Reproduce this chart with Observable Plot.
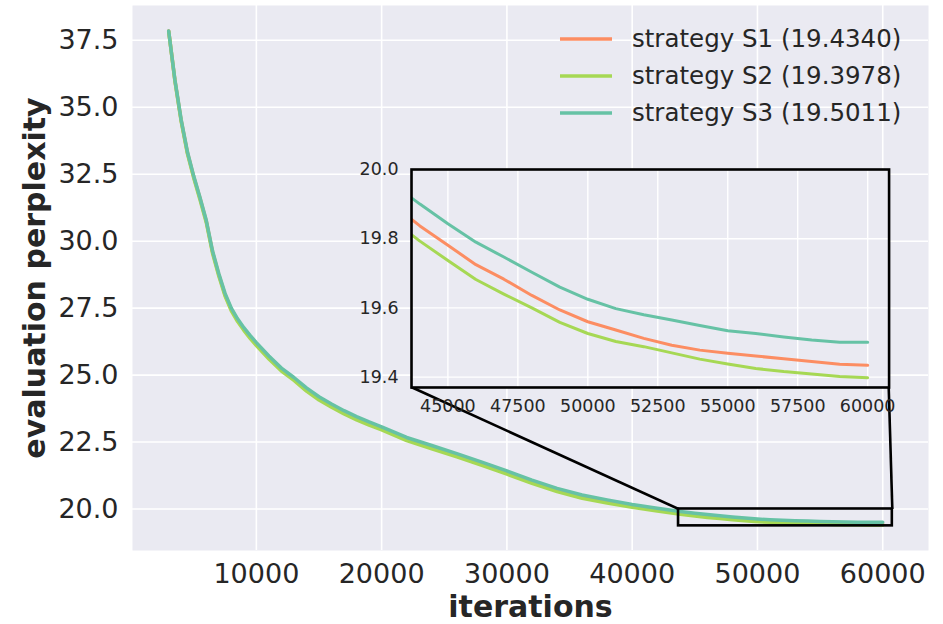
<!DOCTYPE html>
<html>
<head>
<meta charset="utf-8">
<script src="https://cdn.jsdelivr.net/npm/d3@7"></script>
<script src="https://cdn.jsdelivr.net/npm/@observablehq/plot@0.6"></script>
<style>
  body { margin: 0; background: #ffffff; }
  #wrap { position: relative; width: 943px; height: 624px; font-family: "DejaVu Sans", sans-serif; color: #262626; }
  #wrap svg { font-family: "DejaVu Sans", sans-serif; }
  #inset { position: absolute; }
  #legend { position: absolute; left: 560px; top: 20px; }
  .lrow { display: flex; align-items: center; height: 37px; font-size: 24.5px; color: #262626; white-space: nowrap; }
  .lrow svg { margin-right: 20px; }
</style>
</head>
<body>
<div id="wrap"></div>
<script>
// ---------- data ----------
const iterations = [3000, 3500, 4000, 4500, 5000, 5500, 6000, 6500, 7000, 7500, 8000, 8500, 9000, 9500, 10000, 11000, 12000, 13000, 14000, 15000, 16000, 17000, 18000, 19000, 20000, 22000, 24000, 26000, 28000, 30000, 32000, 34000, 36000, 38000, 40000, 42000, 43000, 44000, 45000, 46000, 47000, 48000, 49000, 50000, 51000, 52000, 53000, 54000, 55000, 56000, 57000, 58000, 59000, 60000];

const strategyS1 = [37.85, 36.00, 34.50, 33.30, 32.40, 31.60, 30.75, 29.60, 28.75, 28.00, 27.45, 27.05, 26.72, 26.42, 26.15, 25.65, 25.20, 24.85, 24.45, 24.12, 23.85, 23.60, 23.38, 23.18, 23.00, 22.60, 22.30, 22.00, 21.68, 21.35, 21.01, 20.70, 20.45, 20.27, 20.11, 19.97, 19.90, 19.837, 19.781, 19.725, 19.683, 19.636, 19.594, 19.560, 19.536, 19.512, 19.492, 19.478, 19.469, 19.461, 19.453, 19.445, 19.437, 19.434];

const strategyS2 = [37.84, 35.97, 34.46, 33.26, 32.36, 31.55, 30.70, 29.55, 28.70, 27.95, 27.40, 27.00, 26.67, 26.37, 26.10, 25.60, 25.15, 24.80, 24.40, 24.07, 23.80, 23.55, 23.33, 23.13, 22.95, 22.55, 22.25, 21.95, 21.63, 21.30, 20.96, 20.65, 20.40, 20.22, 20.06, 19.92, 19.855, 19.793, 19.737, 19.682, 19.640, 19.600, 19.558, 19.526, 19.503, 19.488, 19.470, 19.452, 19.438, 19.425, 19.416, 19.409, 19.402, 19.398];

const strategyS3 = [37.85, 36.02, 34.53, 33.33, 32.43, 31.63, 30.78, 29.64, 28.79, 28.05, 27.50, 27.10, 26.77, 26.48, 26.21, 25.71, 25.26, 24.91, 24.52, 24.19, 23.92, 23.67, 23.45, 23.25, 23.07, 22.67, 22.37, 22.07, 21.75, 21.42, 21.08, 20.77, 20.52, 20.34, 20.17, 20.03, 19.96, 19.900, 19.843, 19.790, 19.747, 19.703, 19.660, 19.625, 19.598, 19.580, 19.565, 19.549, 19.534, 19.526, 19.516, 19.507, 19.501, 19.501];

const seriesNames = ["strategy S1 (19.4340)", "strategy S2 (19.3978)", "strategy S3 (19.5011)"];
const seriesColors = ["#fc8d62", "#a6d854", "#66c2a5"];

const mainXTicks = [10000, 20000, 30000, 40000, 50000, 60000];
const mainYTicks = [20.0, 22.5, 25.0, 27.5, 30.0, 32.5, 35.0, 37.5];
const insetXTicks = [45000, 47500, 50000, 52500, 55000, 57500, 60000];
const insetYTicks = [19.4, 19.6, 19.8, 20.0];

const zoomX = [43700, 60765];
const zoomY = [19.37, 20.0];

// ---------- build table ----------
const seriesValues = [strategyS1, strategyS2, strategyS3];
const rows = [];
seriesNames.forEach((name, k) => {
  iterations.forEach((it, i) => rows.push({series: name, iteration: it, value: seriesValues[k][i]}));
});

// ---------- layout ----------
const W = 943, H = 624;
const mL = 132, mR = 15, mT = 5, mB = 74;
const xDom = [112, 63653];
const yDom = [18.45, 38.8];
const insetAxes = [0.35, 0.30, 0.60, 0.40]; // axes fraction: left, bottom, width, height
const ix0 = xDom[0] + insetAxes[0] * (xDom[1] - xDom[0]);
const ix1 = ix0 + insetAxes[2] * (xDom[1] - xDom[0]);
const iy0 = yDom[0] + insetAxes[1] * (yDom[1] - yDom[0]);
const iy1 = iy0 + insetAxes[3] * (yDom[1] - yDom[0]);

const connectors = [
  {x1: zoomX[0], y1: zoomY[1], x2: ix0, y2: iy0},
  {x1: zoomX[1], y1: zoomY[1], x2: ix1, y2: iy0}
];
const zoomBox = [{x1: zoomX[0], x2: zoomX[1], y1: zoomY[0], y2: zoomY[1]}];

const bg = "#EAEAF2";
const ink = "#262626";

const main = Plot.plot({
  width: W, height: H,
  marginLeft: mL, marginRight: mR, marginTop: mT, marginBottom: mB,
  style: {fontFamily: "DejaVu Sans, sans-serif", fontSize: "27px", color: ink, background: "white"},
  x: {domain: xDom, axis: null},
  y: {domain: yDom, axis: null},
  color: {domain: seriesNames, range: seriesColors},
  marks: [
    Plot.frame({fill: bg, stroke: null}),
    Plot.gridX(mainXTicks, {stroke: "white", strokeOpacity: 1, strokeWidth: 1.6}),
    Plot.gridY(mainYTicks, {stroke: "white", strokeOpacity: 1, strokeWidth: 1.6}),
    Plot.axisX(mainXTicks, {tickSize: 0, tickPadding: 13, tickFormat: d => String(d), label: null, fill: ink, fontSize: 27}),
    Plot.axisY(mainYTicks, {tickSize: 0, tickPadding: 14, tickFormat: d3.format(".1f"), label: null, fill: ink, fontSize: 27}),
    Plot.line(rows, {x: "iteration", y: "value", z: "series", stroke: "series", strokeWidth: 3.5, curve: "linear"}),
    Plot.rect(zoomBox, {x1: "x1", x2: "x2", y1: "y1", y2: "y2", fill: "none", stroke: "black", strokeWidth: 2.6}),
    Plot.link(connectors, {x1: "x1", y1: "y1", x2: "x2", y2: "y2", stroke: "black", strokeWidth: 2.6}),
    Plot.text(["iterations"], {frameAnchor: "bottom", dy: 57, fontWeight: "bold", fontSize: 30, fill: ink, textAnchor: "middle", lineAnchor: "middle"}),
    Plot.text(["evaluation perplexity"], {frameAnchor: "left", dx: -97, rotate: -90, fontWeight: "bold", fontSize: 30, fill: ink, textAnchor: "middle", lineAnchor: "middle"})
  ]
});

const wrap = document.getElementById("wrap");
wrap.appendChild(main);

// ---------- inset ----------
const sx = main.scale("x"), sy = main.scale("y");
const px0 = sx.apply(ix0), px1 = sx.apply(ix1);
const pyTop = sy.apply(iy1), pyBot = sy.apply(iy0);
const iML = 64, iMR = 12, iMT = 12, iMB = 36;
const iW = (px1 - px0) + iML + iMR;
const iH = (pyBot - pyTop) + iMT + iMB;

const inset = Plot.plot({
  width: iW, height: iH,
  marginLeft: iML, marginRight: iMR, marginTop: iMT, marginBottom: iMB,
  style: {fontFamily: "DejaVu Sans, sans-serif", fontSize: "17.5px", color: ink, background: "transparent", overflow: "visible"},
  x: {domain: zoomX, axis: null},
  y: {domain: zoomY, axis: null},
  color: {domain: seriesNames, range: seriesColors},
  marks: [
    Plot.frame({fill: bg, stroke: null}),
    Plot.gridX(insetXTicks, {stroke: "white", strokeOpacity: 1, strokeWidth: 1.4}),
    Plot.gridY(insetYTicks, {stroke: "white", strokeOpacity: 1, strokeWidth: 1.4}),
    Plot.line(rows, {x: "iteration", y: "value", z: "series", stroke: "series", strokeWidth: 3, clip: true}),
    Plot.frame({stroke: "black", strokeWidth: 2.6}),
    Plot.axisX(insetXTicks, {tickSize: 0, tickPadding: 12, tickFormat: d => String(d), label: null, fill: ink, fontSize: 17.5}),
    Plot.axisY(insetYTicks, {tickSize: 0, tickPadding: 13, tickFormat: d3.format(".1f"), label: null, fill: ink, fontSize: 17.5})
  ]
});
const insetDiv = document.createElement("div");
insetDiv.id = "inset";
insetDiv.style.left = (px0 - iML) + "px";
insetDiv.style.top = (pyTop - iMT) + "px";
insetDiv.appendChild(inset);
wrap.appendChild(insetDiv);

// ---------- legend ----------
const legend = document.createElement("div");
legend.id = "legend";
seriesNames.forEach((name, k) => {
  const row = document.createElement("div");
  row.className = "lrow";
  row.innerHTML = `<svg width="52" height="10"><line x1="0" x2="52" y1="5" y2="5" stroke="${seriesColors[k]}" stroke-width="3.5"/></svg><span>${name}</span>`;
  legend.appendChild(row);
});
wrap.appendChild(legend);
</script>
</body>
</html>
